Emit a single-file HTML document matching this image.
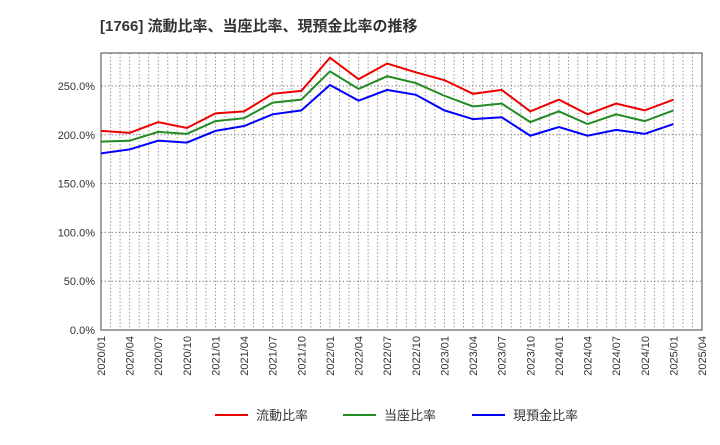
<!DOCTYPE html>
<html><head><meta charset="utf-8"><style>
body{margin:0;background:#fff;width:720px;height:440px;overflow:hidden;font-family:"Liberation Sans","Noto Sans CJK JP",sans-serif}
</style></head><body>
<svg id="c" width="720" height="440" xmlns="http://www.w3.org/2000/svg">
<text x="100" y="31" font-size="15" font-weight="bold" fill="#333" font-family="Liberation Sans,Noto Sans CJK JP,sans-serif">[1766]  流動比率、当座比率、現預金比率の推移</text>
<g id="grid"></g><g id="axes"></g><g id="series"></g><g id="legend"></g>
</svg>
<script>
const categories=["2020/01","2020/04","2020/07","2020/10","2021/01","2021/04","2021/07","2021/10","2022/01","2022/04","2022/07","2022/10","2023/01","2023/04","2023/07","2023/10","2024/01","2024/04","2024/07","2024/10","2025/01"];
const tickLabels=["2020/01","2020/04","2020/07","2020/10","2021/01","2021/04","2021/07","2021/10","2022/01","2022/04","2022/07","2022/10","2023/01","2023/04","2023/07","2023/10","2024/01","2024/04","2024/07","2024/10","2025/01","2025/04"];
const yTicks=[0,50,100,150,200,250];
const currentRatio=[204,202,213,207,222,224,242,245,279,257,273,264,256,242,246,224,236,221,232,225,236];
const quickRatio=[193,194,203,201,214,217,233,236,265,247,260,253,240,229,232,213,224,211,221,214,225];
const cashRatio=[181,185,194,192,204,209,221,225,251,235,246,241,225,216,218,199,208,199,205,201,211];
const L=101,R=702,T=53,B=330,yMax=283.8;
const NS="http://www.w3.org/2000/svg";
const nQ=tickLabels.length-1;
const x=i=>L+(R-L)*i/nQ;
const y=v=>B-(B-T)*v/yMax;
function mk(t,a,p){const e=document.createElementNS(NS,t);for(const k in a)e.setAttribute(k,a[k]);p.appendChild(e);return e;}
const g=document.getElementById('grid'),ax=document.getElementById('axes'),s=document.getElementById('series'),lg=document.getElementById('legend');
for(let m=1;m<nQ*3;m++){const xx=L+(R-L)*m/(nQ*3);
const ln=mk('line',{x1:xx,x2:xx,y1:T,y2:B,stroke:'#999','stroke-dasharray':'1.5,2','stroke-width':1},g);

}
yTicks.forEach(v=>{const ln=mk('line',{x1:L,x2:R,y1:y(v),y2:y(v),stroke:'#888','stroke-dasharray':'1.5,2','stroke-width':1},g);


const t=mk('text',{x:L-6,y:y(v)+4,'text-anchor':'end','font-size':11,fill:'#333'},ax);t.textContent=v.toFixed(1)+'%';

});
const fr=mk('rect',{x:L,y:T,width:R-L,height:B-T,fill:'none',stroke:'#444','stroke-width':1},ax);


tickLabels.forEach((c,i)=>{const t=mk('text',{transform:`translate(${x(i)+4},${B+6}) rotate(-90)`,'text-anchor':'end','font-size':11,fill:'#333'},ax);t.textContent=c;

});
const ser=[[currentRatio,'#e00','流動比率','current-ratio-line'],[quickRatio,'#228b22','当座比率','quick-ratio-line'],[cashRatio,'#00f','現預金比率','cash-ratio-line']];
ser.forEach(([d,col,name,dn])=>{const p=mk('polyline',{points:d.map((v,i)=>x(i)+','+y(v)).join(' '),fill:'none',stroke:col,'stroke-width':2},s);

});
const lx=[215,343,472];
ser.forEach(([d,col,name,dn],i)=>{const ln=mk('line',{x1:lx[i],x2:lx[i]+33,y1:415,y2:415,stroke:col,'stroke-width':2},lg);


const t=mk('text',{x:lx[i]+41,y:420,'font-size':13,fill:'#333'},lg);t.textContent=name;

});
</script>
</body></html>
